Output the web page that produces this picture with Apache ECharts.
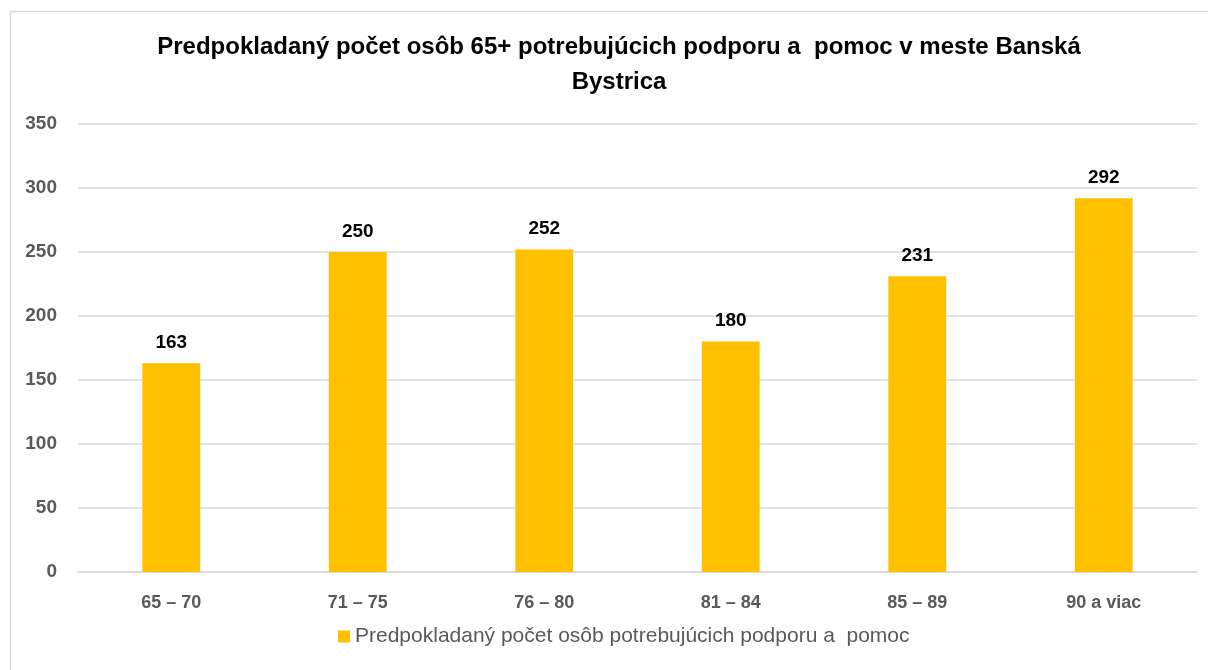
<!DOCTYPE html>
<html>
<head>
<meta charset="utf-8">
<script src="https://cdn.jsdelivr.net/npm/echarts@6/dist/echarts.min.js"></script>
<style>
  html, body { margin: 0; padding: 0; background: #fff; }
  #chart { width: 1208px; height: 670px; }
</style>
</head>
<body>
<div id="chart"></div>
<script>
var categories = ['65 – 70', '71 – 75', '76 – 80', '81 – 84', '85 – 89', '90 a viac'];
var values = [163, 250, 252, 180, 231, 292];
var seriesName = 'Predpokladaný počet osôb potrebujúcich podporu a  pomoc';
var titleText = 'Predpokladaný počet osôb 65+ potrebujúcich podporu a  pomoc v meste Banská\nBystrica';

var myChart = echarts.init(document.getElementById('chart'));
var font = '"Liberation Sans", Arial, sans-serif';

var option = {
  animation: false,
  backgroundColor: '#fff',
  graphic: [{
    type: 'rect',
    shape: { x: 10.5, y: 11.5, width: 1220, height: 700 },
    style: { fill: 'none', stroke: '#d9d9d9', lineWidth: 1.5 },
    silent: true
  }],
  title: {
    text: titleText,
    left: 614,
    textAlign: 'center',
    top: 25,
    textStyle: {
      fontFamily: font,
      fontWeight: 'bold',
      fontSize: 24,
      color: '#000',
      lineHeight: 35
    }
  },
  legend: {
    bottom: 18,
    left: 333,
    itemWidth: 12,
    itemHeight: 12,
    itemGap: 5,
    icon: 'rect',
    textStyle: { fontFamily: font, fontSize: 21, color: '#595959' },
    data: [seriesName]
  },
  grid: { left: 78, right: 11, top: 124, bottom: 98 },
  xAxis: {
    type: 'category',
    data: categories,
    axisTick: { show: false },
    axisLine: { lineStyle: { color: '#d9d9d9', width: 1.5 } },
    axisLabel: {
      margin: 22,
      fontFamily: font,
      fontWeight: 'bold',
      fontSize: 18,
      color: '#595959'
    }
  },
  yAxis: {
    type: 'value',
    min: 0,
    max: 350,
    interval: 50,
    axisLine: { show: false },
    axisTick: { show: false },
    axisLabel: {
      margin: 21,
      fontFamily: font,
      fontWeight: 'bold',
      fontSize: 19,
      color: '#595959'
    },
    splitLine: { lineStyle: { color: '#d9d9d9', width: 1.5 } }
  },
  series: [{
    name: seriesName,
    type: 'bar',
    data: values,
    barWidth: '31%',
    itemStyle: { color: '#FFC000' },
    label: {
      show: true,
      position: 'top',
      distance: 11,
      fontFamily: font,
      fontWeight: 'bold',
      fontSize: 19,
      color: '#000'
    }
  }]
};
myChart.setOption(option);
</script>
</body>
</html>
